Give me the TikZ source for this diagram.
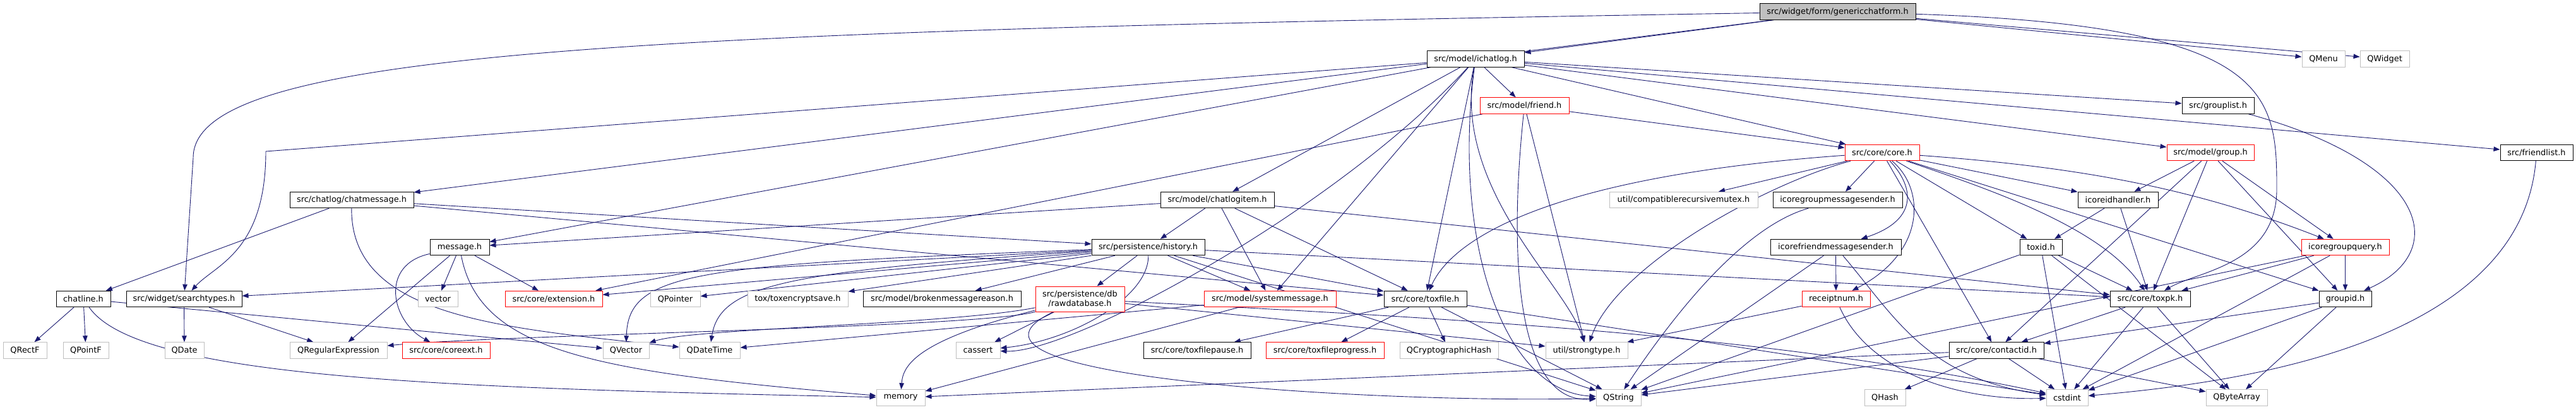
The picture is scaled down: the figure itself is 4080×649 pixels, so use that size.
\documentclass[tikz,border=0pt]{standalone}
\usepackage{fontspec}
\setmainfont{DejaVu Sans}
\usetikzlibrary{arrows.meta,backgrounds}
\definecolor{edgeblue}{RGB}{25,25,112}
\definecolor{extgray}{RGB}{191,191,191}
\definecolor{partred}{RGB}{255,0,0}

\begin{document}
\begin{tikzpicture}[x=1pt,y=-1pt,
  box/.style={rectangle,line width=1pt,minimum height=25.5pt,inner sep=0pt,
    fill=white,font=\fontsize{12.9}{15}\selectfont},
  hdr/.style={box,draw=black},
  part/.style={box,draw=partred},
  ext/.style={box,draw=extgray},
  root/.style={box,draw=black,fill=extgray},
  edge/.style={draw=edgeblue,line width=0.9pt,-{Triangle[length=10pt,width=7.5pt]}}]
  \useasboundingbox (0,0) rectangle (4080,649);

  % Rank 0 to 3
  \node[root,minimum width=247pt] (gcf) at (2910.5,18.5) {src/widget/form/genericchatform.h};
  \node[hdr,minimum width=154pt] (ichatlog) at (2337,93.5) {src/model/ichatlog.h};
  \node[ext,minimum width=68pt] (qmenu) at (3680,93.5) {QMenu};
  \node[ext,minimum width=78pt] (qwidget) at (3777,93.5) {QWidget};
  \node[part,minimum width=141pt] (friend) at (2414.5,167.5) {src/model/friend.h};
  \node[hdr,minimum width=114pt] (grouplist) at (3513,167.5) {src/grouplist.h};
  \node[part,minimum width=118pt] (core) at (2981,242) {src/core/core.h};
  \node[part,minimum width=138pt] (group) at (3501,242) {src/model/group.h};
  \node[hdr,minimum width=115pt] (friendlist) at (4017.5,242) {src/friendlist.h};

  % Rank 4 and 5
  \node[hdr,minimum width=196pt] (chatmsg) at (557,317) {src/chatlog/chatmessage.h};
  \node[hdr,minimum width=180pt] (chatlogitem) at (1928,317) {src/model/chatlogitem.h};
  \node[ext,minimum width=235pt] (crmutex) at (2666.5,317) {util/compatiblerecursivemutex.h};
  \node[hdr,minimum width=205pt] (icgms) at (2910.5,317) {icoregroupmessagesender.h};
  \node[hdr,minimum width=127pt] (idhandler) at (3354.5,317) {icoreidhandler.h};
  \node[hdr,minimum width=94pt] (message) at (728,392) {message.h};
  \node[hdr,minimum width=179pt] (history) at (1818.5,392) {src/persistence/history.h};
  \node[hdr,minimum width=207pt] (icfms) at (2907.5,392) {icorefriendmessagesender.h};
  \node[hdr,minimum width=67pt] (toxid) at (3232.5,392) {toxid.h};
  \node[part,minimum width=139pt] (icgq) at (3714.5,392) {icoregroupquery.h};

  % Rank 6
  \node[hdr,minimum width=86pt] (chatline) at (132,474) {chatline.h};
  \node[hdr,minimum width=183pt] (search) at (291.5,474) {src/widget/searchtypes.h};
  \node[ext,minimum width=63pt] (vector) at (693.5,474) {vector};
  \node[part,minimum width=154pt] (extension) at (877,474) {src/core/extension.h};
  \node[ext,minimum width=79pt] (qpointer) at (1069.5,474) {QPointer};
  \node[ext,minimum width=159pt] (encsave) at (1263.5,474) {tox/toxencryptsave.h};
  \node[hdr,minimum width=250pt] (broken) at (1492,474) {src/model/brokenmessagereason.h};
  \node[part,minimum width=141pt,minimum height=40pt,align=center] (rawdb) at (1710.5,474)
    {src/persistence/db\\/rawdatabase.h};
  \node[part,minimum width=209pt] (sysmsg) at (2011.5,474) {src/model/systemmessage.h};
  \node[hdr,minimum width=131pt] (toxfile) at (2257.5,474) {src/core/toxfile.h};
  \node[part,minimum width=108pt] (receipt) at (2908,474) {receiptnum.h};
  \node[hdr,minimum width=127pt] (toxpk) at (3405.5,474) {src/core/toxpk.h};
  \node[hdr,minimum width=83pt] (groupid) at (3714.5,474) {groupid.h};

  % Rank 7 and 8
  \node[ext,minimum width=69pt] (qrectf) at (39.5,555.5) {QRectF};
  \node[ext,minimum width=72pt] (qpointf) at (136,555.5) {QPointF};
  \node[ext,minimum width=62pt] (qdate) at (292,555.5) {QDate};
  \node[ext,minimum width=154pt] (qregexp) at (536,555.5) {QRegularExpression};
  \node[part,minimum width=139pt] (coreext) at (706.5,555.5) {src/core/coreext.h};
  \node[ext,minimum width=73pt] (qvector) at (991.5,555.5) {QVector};
  \node[ext,minimum width=96pt] (qdatetime) at (1124,555.5) {QDateTime};
  \node[ext,minimum width=70pt] (cassert) at (1549,555.5) {cassert};
  \node[hdr,minimum width=170pt] (pause) at (1896,555.5) {src/core/toxfilepause.h};
  \node[part,minimum width=187pt] (progress) at (2098.5,555.5) {src/core/toxfileprogress.h};
  \node[ext,minimum width=156pt] (qcrypto) at (2295,555.5) {QCryptographicHash};
  \node[ext,minimum width=130pt] (strongtype) at (2513,555.5) {util/strongtype.h};
  \node[hdr,minimum width=150pt] (contactid) at (3162,555.5) {src/core/contactid.h};
  \node[ext,minimum width=77pt] (memory) at (1426.5,630.5) {memory};
  \node[ext,minimum width=71pt] (qstring) at (2563.5,630.5) {QString};
  \node[ext,minimum width=65pt] (qhash) at (2985.5,630.5) {QHash};
  \node[ext,minimum width=66pt] (cstdint) at (3274,630.5) {cstdint};
  \node[ext,minimum width=97pt] (qbytearray) at (3542.5,630.5) {QByteArray};

  \begin{scope}[on background layer]
    \fill[white] (0,0) rectangle (4080,649);
    % Straight include edges
    \foreach \a/\b in {gcf/ichatlog,gcf/chatmsg,gcf/qmenu,gcf/qwidget,
      ichatlog/friend,ichatlog/core,ichatlog/chatlogitem,ichatlog/message,
      ichatlog/toxfile,ichatlog/grouplist,ichatlog/friendlist,ichatlog/group,
      ichatlog/sysmsg,friend/core,friend/extension,friend/strongtype,
      core/crmutex,core/icgms,core/idhandler,core/toxid,core/groupid,core/contactid,
      group/idhandler,group/icgq,group/groupid,group/toxpk,group/contactid,
      chatmsg/chatline,chatmsg/history,chatmsg/toxfile,
      chatlogitem/history,chatlogitem/sysmsg,chatlogitem/message,
      chatlogitem/toxfile,chatlogitem/toxpk,idhandler/toxid,idhandler/toxpk,
      message/vector,message/extension,message/qregexp,
      history/search,history/extension,history/qpointer,history/encsave,
      history/broken,history/rawdb,history/sysmsg,history/toxfile,
      history/toxpk,history/qstring,icfms/receipt,icfms/qstring,
      toxid/toxpk,toxid/cstdint,toxid/qbytearray,toxid/qstring,
      icgq/toxpk,icgq/groupid,icgq/cstdint,icgq/qstring,
      chatline/qrectf,chatline/qpointf,chatline/qvector,
      search/qdate,search/qregexp,rawdb/cassert,rawdb/strongtype,
      sysmsg/qdatetime,sysmsg/memory,
      toxfile/pause,toxfile/progress,toxfile/qcrypto,toxfile/qstring,toxfile/cstdint,
      receipt/strongtype,toxpk/contactid,toxpk/cstdint,toxpk/qbytearray,
      groupid/contactid,groupid/cstdint,groupid/qbytearray,
      contactid/qhash,contactid/cstdint,contactid/qbytearray,
      contactid/qstring,contactid/memory}
      \draw[edge] (\a) -- (\b);

    % Routed edges
    \draw[edge] (gcf) .. controls (1000,50) and (306,80) .. (306,250) -- (search);
    \draw[edge] (ichatlog) -- (421,240) .. controls (421,400) and (340,420) .. (search);
    \draw[edge] (gcf) .. controls (3600,40) and (3606,150) .. (3606,300)
      .. controls (3606,420) and (3480,430) .. (toxpk);
    \draw[edge] (ichatlog) .. controls (2300,300) and (2480,450) .. (strongtype);
    \draw[edge] (ichatlog) .. controls (2300,380) and (2380,620) .. (qstring);
    \draw[edge] (ichatlog) .. controls (2120,330) and (1700,560) .. (cassert);
    \draw[edge] (friend) .. controls (2390,400) and (2400,640) .. (qstring);
    \draw[edge] (core) .. controls (3035,300) and (3035,350) .. (icfms);
    \draw[edge] (core) .. controls (3050,300) and (3050,400) .. (receipt);
    \draw[edge] (core) .. controls (2450,280) and (2300,380) .. (toxfile);
    \draw[edge] (core) .. controls (3150,300) and (3330,360) .. (toxpk);
    \draw[edge] (core) .. controls (2800,290) and (2560,420) .. (strongtype);
    \draw[edge] (core) .. controls (3300,265) and (3480,300) .. (icgq);
    \draw[edge] (grouplist) .. controls (3850,260) and (3880,400) .. (groupid);
    \draw[edge] (friendlist) .. controls (3990,560) and (3500,610) .. (cstdint);
    \draw[edge] (chatmsg) .. controls (555,505) and (800,520) .. (qdatetime);
    \draw[edge] (chatline) .. controls (220,600) and (700,615) .. (memory);
    \draw[edge] (message) .. controls (600,420) and (620,510) .. (coreext);
    \draw[edge] (message) .. controls (760,560) and (950,590) .. (memory);
    \draw[edge] (history) .. controls (1100,420) and (995,430) .. (qvector);
    \draw[edge] (history) .. controls (1250,430) and (1140,450) .. (qdatetime);
    \draw[edge] (history) .. controls (1820,470) and (1700,540) .. (cassert);
    \draw[edge] (rawdb) .. controls (1550,520) and (800,530) .. (qregexp);
    \draw[edge] (rawdb) .. controls (1500,515) and (1100,520) .. (qvector);
    \draw[edge] (rawdb) .. controls (1450,540) and (1430,580) .. (memory);
    \draw[edge] (rawdb) .. controls (1450,600) and (2200,640) .. (qstring);
    \draw[edge] (rawdb) .. controls (2300,505) and (2800,530) .. (cstdint);
    \draw[edge] (receipt) .. controls (2960,590) and (3100,635) .. (cstdint);
    \draw[edge] (icfms) .. controls (3000,500) and (3050,600) .. (cstdint);
    \draw[edge] (icgms) .. controls (2760,360) and (2650,500) .. (qstring);
  \end{scope}
\end{tikzpicture}
\end{document}
